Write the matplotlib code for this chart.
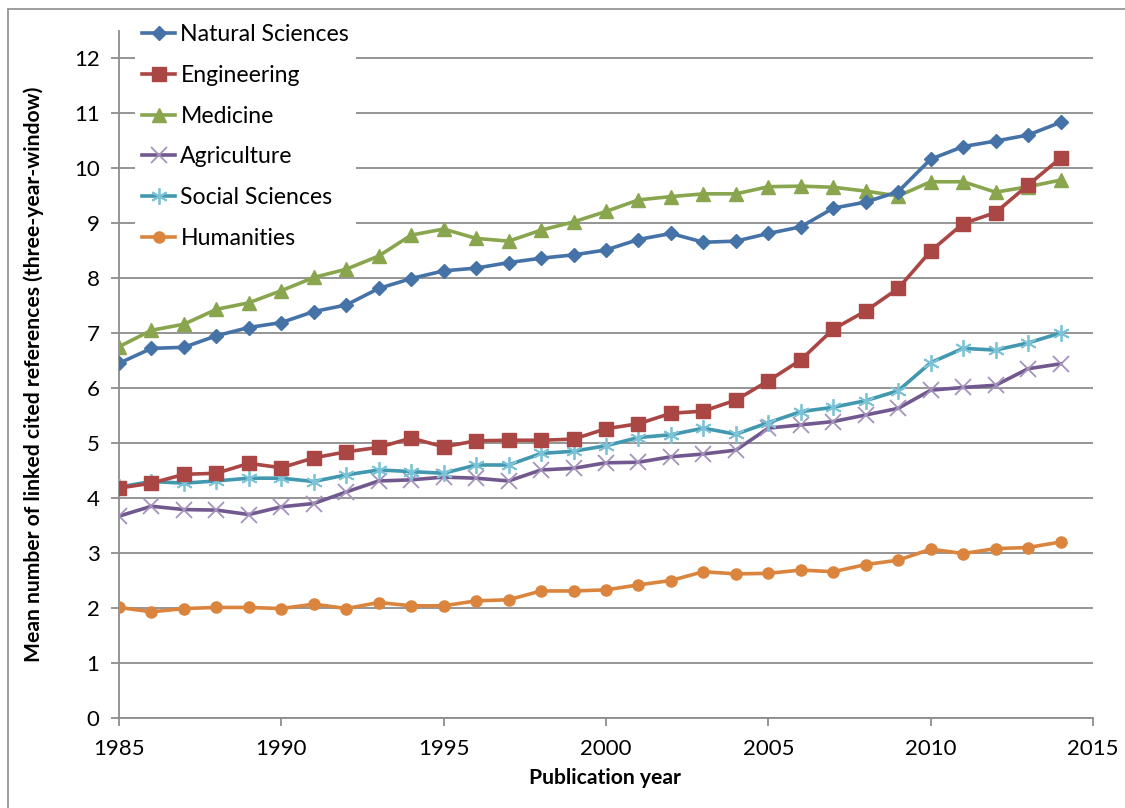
import matplotlib
matplotlib.use("Agg")
import matplotlib.pyplot as plt
from matplotlib.patches import Rectangle

plt.rcParams['font.family'] = ['Lato', 'DejaVu Sans']

years = list(range(1985, 2015))

natural_sciences = [6.45, 6.72, 6.74, 6.95, 7.10, 7.19, 7.39, 7.51, 7.81, 7.99,
                    8.13, 8.18, 8.28, 8.36, 8.42, 8.51, 8.70, 8.81, 8.65, 8.67,
                    8.81, 8.93, 9.27, 9.38, 9.57, 10.16, 10.39, 10.49, 10.60, 10.83]
engineering = [4.18, 4.27, 4.43, 4.45, 4.63, 4.55, 4.73, 4.84, 4.92, 5.09,
               4.93, 5.04, 5.05, 5.05, 5.07, 5.26, 5.35, 5.54, 5.58, 5.78,
               6.13, 6.51, 7.07, 7.40, 7.81, 8.49, 8.99, 9.19, 9.69, 10.18]
medicine = [6.75, 7.05, 7.16, 7.43, 7.55, 7.77, 8.01, 8.16, 8.40, 8.78,
            8.89, 8.72, 8.67, 8.87, 9.02, 9.21, 9.42, 9.48, 9.53, 9.53,
            9.66, 9.67, 9.65, 9.58, 9.49, 9.75, 9.75, 9.56, 9.66, 9.78]
agriculture = [3.67, 3.85, 3.79, 3.78, 3.70, 3.84, 3.90, 4.11, 4.31, 4.33,
               4.38, 4.36, 4.31, 4.51, 4.54, 4.64, 4.65, 4.75, 4.80, 4.87,
               5.27, 5.33, 5.39, 5.51, 5.63, 5.96, 6.01, 6.05, 6.35, 6.44]
social_sciences = [4.20, 4.30, 4.27, 4.31, 4.36, 4.36, 4.30, 4.42, 4.51, 4.48,
                   4.45, 4.60, 4.60, 4.81, 4.85, 4.95, 5.10, 5.15, 5.27, 5.16,
                   5.37, 5.57, 5.65, 5.77, 5.95, 6.46, 6.72, 6.69, 6.82, 7.00]
humanities = [2.01, 1.93, 1.99, 2.01, 2.01, 1.99, 2.07, 1.99, 2.10, 2.04,
              2.04, 2.13, 2.15, 2.31, 2.31, 2.33, 2.42, 2.50, 2.66, 2.62,
              2.63, 2.69, 2.66, 2.79, 2.87, 3.07, 2.99, 3.08, 3.10, 3.20]

labels = ["Natural Sciences", "Engineering", "Medicine", "Agriculture",
          "Social Sciences", "Humanities"]

W, H = 1125, 808
fig = plt.figure(figsize=(W / 100, H / 100), dpi=100)
x0, x1 = 119, 1093
y0, y1 = 718, 30.5
ax = fig.add_axes([x0 / W, 1 - y0 / H, (x1 - x0) / W, (y0 - y1) / H])

lw = 2.6
ax.plot(years, natural_sciences, color='#4572A7', lw=lw, marker='D', ms=7.5,
        mfc='#4572A7', mec='#4572A7', label=labels[0], zorder=6)
ax.plot(years, engineering, color='#AA4643', lw=lw, marker='s', ms=10,
        mfc='#AA4643', mec='#AA4643', label=labels[1], zorder=5)
ax.plot(years, medicine, color='#89A54E', lw=lw, marker='^', ms=10,
        mfc='#89A54E', mec='#89A54E', label=labels[2], zorder=4)
ax.plot(years, agriculture, color='#71588F', lw=lw, marker='x', ms=11,
        mec='#A593BD', mew=1.3, label=labels[3], zorder=3)
ax.plot(years, social_sciences, color='#4198AF', lw=lw, marker=(6, 2, 0), ms=12,
        mec='#7CC3D8', mew=1.3, label=labels[4], zorder=3)
ax.plot(years, humanities, color='#DB843D', lw=lw, marker='o', ms=8,
        mfc='#DB843D', mec='#DB843D', label=labels[5], zorder=3)

ax.set_xlim(1985, 2015)
ax.set_ylim(0, 12.5)
ax.set_xticks(range(1985, 2016, 5))
ax.set_yticks(range(0, 13))

grid_c = '#8C8C8C'
ax.yaxis.grid(True, color=grid_c, lw=1.3)
ax.set_axisbelow(True)
for s in ['top', 'right']:
    ax.spines[s].set_visible(False)
for s in ['left', 'bottom']:
    ax.spines[s].set_color(grid_c)
    ax.spines[s].set_linewidth(1.3)
ax.tick_params(axis='both', colors=grid_c, length=6, width=1.3,
               labelcolor='black', labelsize=16)
ax.tick_params(axis='y', pad=8)
ax.tick_params(axis='x', pad=9)

ax.set_ylabel("Mean number of linked cited references (three-year-window)",
              fontsize=15.2, fontweight='bold')
ax.yaxis.set_label_coords((44 - x0) / (x1 - x0), 0.5)
ax.set_xlabel("Publication year", fontsize=15.2, fontweight='bold')
ax.xaxis.set_label_coords((605 - x0) / (x1 - x0), (y0 - 768) / (y0 - y1))

leg = ax.legend(loc='upper left',
                bbox_to_anchor=(135 / W, 1 - 17 / H),
                bbox_transform=fig.transFigure,
                frameon=True, facecolor='white', edgecolor='none', framealpha=1,
                fancybox=False, fontsize=16.6, handlelength=1.45,
                handletextpad=0.22, labelspacing=0.86, borderpad=0.3,
                borderaxespad=0)
leg.set_zorder(10)

fig.patches.append(Rectangle((8 / W, -0.1), 1.2, 1 - 9 / H + 0.1,
                             transform=fig.transFigure, fill=False,
                             edgecolor='#8C8C8C', lw=1.2))

fig.savefig("out.png", dpi=100)
